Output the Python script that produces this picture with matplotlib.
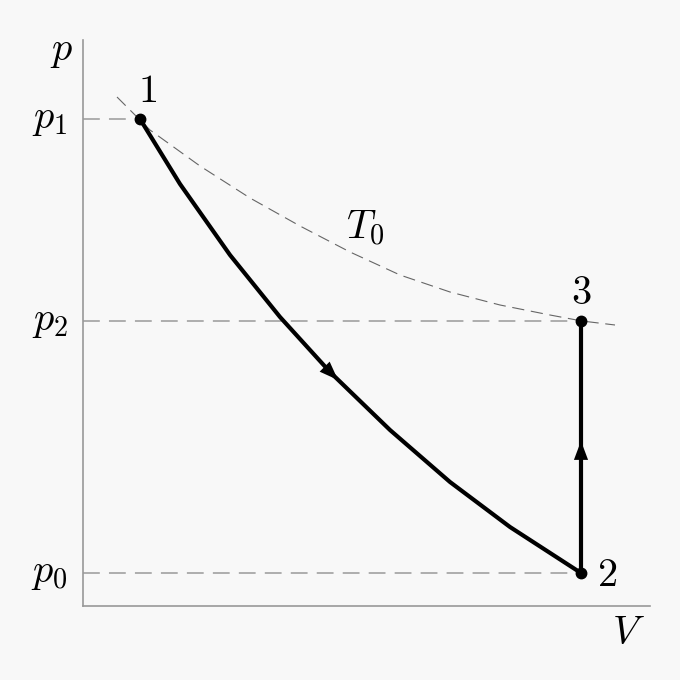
import numpy as np
import matplotlib
matplotlib.use("Agg")
import matplotlib.pyplot as plt

plt.rcParams['mathtext.fontset'] = 'cm'
plt.rcParams['font.family'] = 'serif'

# ------------------------------------------------------------------
# data (V, p in arbitrary units)
p_levels = [4.87, 2.85, 0.33]
p_labels = [r'$p_1$', r'$p_2$', r'$p_0$']

# process 1 -> 2
V_12 = [0.57, 0.97, 1.47, 1.97, 2.47, 3.07, 3.67, 4.27, 4.98]
p_12 = [4.87, 4.22, 3.51, 2.89, 2.34, 1.76, 1.24, 0.79, 0.33]

# isotherm T0
V_iso = [0.34, 0.67, 1.17, 1.67, 2.17, 2.67, 3.17, 3.67, 4.17, 4.67, 4.99, 5.32]
p_iso = [5.09, 4.76, 4.40, 4.08, 3.80, 3.54, 3.31, 3.14, 3.01, 2.91, 2.85, 2.81]

# state points
pts_V = [0.57, 4.98, 4.98]
pts_p = [4.87, 0.33, 2.85]
pts_name = [r'$1$', r'$2$', r'$3$']

# arrow (tail, tip) positions along the paths
arr_tail = [(2.40, 2.41), (4.98, 1.40)]
arr_tip = [(2.55, 2.26), (4.98, 1.65)]

# ------------------------------------------------------------------
fig = plt.figure(figsize=(6.8, 6.8), dpi=100, facecolor='#f8f8f8')
ax = fig.add_axes([83/680, 74/680, 567/680, 566/680])
ax.set_facecolor('#f8f8f8')
ax.set_xlim(0, 5.67)
ax.set_ylim(0, 5.66)

for s in ['top', 'right']:
    ax.spines[s].set_visible(False)
for s in ['left', 'bottom']:
    ax.spines[s].set_color('#999999')
    ax.spines[s].set_linewidth(1.2)
ax.set_xticks([])
ax.set_yticks([])

# horizontal guide lines to the points
ax.plot([0, pts_V[0]], [p_levels[0], p_levels[0]], color='#999999', lw=1.1, dashes=(11, 6))
ax.plot([0, pts_V[2]], [p_levels[1], p_levels[1]], color='#999999', lw=1.1, dashes=(11, 6))
ax.plot([0, pts_V[1]], [p_levels[2], p_levels[2]], color='#999999', lw=1.1, dashes=(11, 6))

for lvl, lab in zip(p_levels, p_labels):
    ax.text(-0.15, lvl, lab, fontsize=29, ha='right', va='center')

# isotherm
ax.plot(V_iso, p_iso, color='#666666', lw=0.8, dashes=(11, 6))
ax.text(2.82, 3.78, r'$T_0$', fontsize=29, ha='center', va='center')

# process lines
ax.plot(V_12, p_12, color='black', lw=3.0, solid_capstyle='round', solid_joinstyle='round')
ax.plot([pts_V[1], pts_V[2]], [pts_p[1], pts_p[2]], color='black', lw=3.0)

# direction arrows
for tail, tip in zip(arr_tail, arr_tip):
    ax.annotate('', xy=tip, xytext=tail,
                arrowprops=dict(arrowstyle='-|>,head_length=0.8,head_width=0.3',
                                mutation_scale=17, color='black', lw=0,
                                shrinkA=0, shrinkB=0))

ax.plot(pts_V, pts_p, 'o', color='black', markersize=7.5)

ax.text(0.65, 5.14, pts_name[0], fontsize=29, ha='center', va='center')
ax.text(5.24, 0.31, pts_name[1], fontsize=29, ha='center', va='center')
ax.text(4.98, 3.13, pts_name[2], fontsize=29, ha='center', va='center')

ax.text(-0.21, 5.54, r'$p$', fontsize=29, ha='center', va='center')
ax.text(5.45, -0.28, r'$V$', fontsize=29, ha='center', va='center')

fig.savefig('out.png', dpi=100, facecolor=fig.get_facecolor())
